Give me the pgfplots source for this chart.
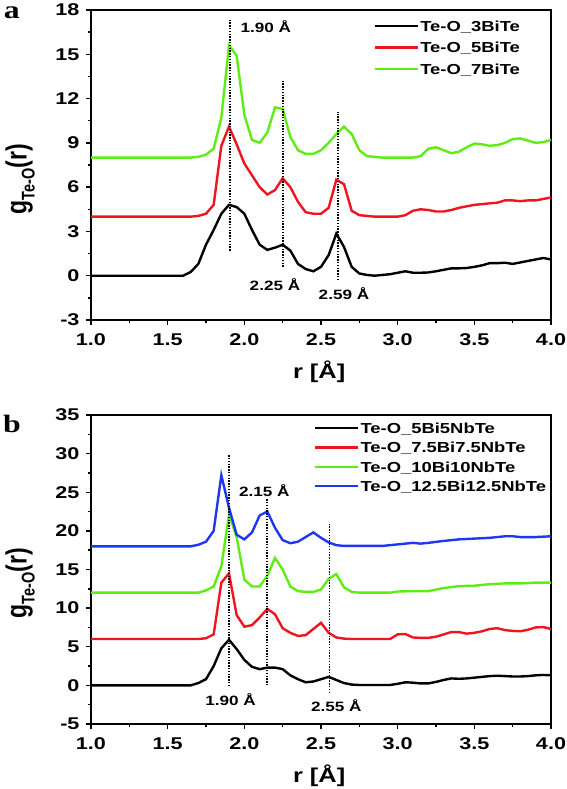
\documentclass[border=0pt]{standalone}
\usepackage{fontspec}
\setmainfont{Liberation Sans}[FakeStretch=1.27]
\newfontfamily\plainsans{Liberation Sans}
\newfontfamily\letterfont{Liberation Serif}[FakeStretch=1.27]
\usepackage{graphicx}
\usepackage{pgfplots}
\pgfplotsset{compat=1.18}
\definecolor{cred}{RGB}{240,20,30}
\definecolor{cgreen}{RGB}{95,235,20}
\definecolor{cblue}{RGB}{30,55,245}
\newcommand{\glabel}{\scalebox{1}[1.27]{\plainsans\bfseries\fontsize{23}{23}\selectfont g\raisebox{-0.28em}{\fontsize{14.5}{14.5}\selectfont Te-O}(r)}}
\pgfplotsset{
  gstyle/.style={
    width=460pt, height=310pt, scale only axis,
    xmin=1, xmax=4,
    xtick={1,1.5,2,2.5,3,3.5,4}, minor x tick num=1, minor y tick num=1,
    xtick pos=left, ytick pos=left, tick align=outside,
    major tick length=5pt, minor tick length=3pt,
    every tick/.style={black, line width=1.4pt},
    axis line style={line width=1.6pt},
    /pgf/number format/assume math mode=true,
    xticklabel style={font=\bfseries\fontsize{17}{17}\selectfont, yshift=-5pt, /pgf/number format/.cd, fixed, fixed zerofill, precision=1},
    yticklabel style={font=\bfseries\fontsize{17}{17}\selectfont, xshift=-3pt},
    xlabel={\bfseries r [Å]},
    xlabel style={font=\fontsize{20}{20}\selectfont, at={(axis description cs:0.496,-0.168)}, anchor=center},
    ylabel={\glabel},
    ylabel style={at={(axis description cs:-0.154,0.455)}, anchor=center},
    legend cell align=left,
    legend image code/.code={\draw[#1, line width=2.2pt] (0pt,2pt) -- (43pt,2pt);},
    every axis plot/.append style={line width=2.4pt},
    clip=false,
  },
  dots/.style={black, line width=1.5pt, dash pattern=on 1.4pt off 1.4pt, forget plot},
}
\begin{document}
\begin{tikzpicture}[x=1pt,y=1pt]
\useasboundingbox (0,0) rectangle (567,789);
% ---------------- panel a
\begin{axis}[gstyle, at={(91pt,469pt)}, anchor=south west,
  ymin=-3, ymax=18, ytick={-3,0,3,6,9,12,15,18},
  legend style={draw=none, fill=none, inner sep=0pt, at={(0.615,0.967)}, anchor=north west,
    font=\bfseries\fontsize{14.5}{14.5}\selectfont,
    nodes={inner sep=1pt, text height=10pt, text depth=3pt}, row sep=6.5pt},
  /tikz/every even column/.append style={column sep=4pt}]
\addplot[black] coordinates {(1.0,0)(1.6,0)(1.65,0.25)(1.7,0.8)(1.75,2.1)(1.8,3.1)(1.85,4.2)(1.9,4.8)(1.95,4.65)(2.0,4.2)(2.05,3.1)(2.1,2.1)(2.15,1.75)(2.2,1.9)(2.25,2.1)(2.3,1.7)(2.35,0.8)(2.4,0.45)(2.45,0.3)(2.5,0.6)(2.55,1.4)(2.6,2.85)(2.65,1.95)(2.7,0.6)(2.75,0.15)(2.8,0.05)(2.85,0.0)(2.9,0.05)(2.95,0.1)(3.0,0.2)(3.05,0.3)(3.1,0.2)(3.15,0.2)(3.2,0.22)(3.25,0.3)(3.3,0.4)(3.35,0.5)(3.4,0.5)(3.45,0.52)(3.5,0.6)(3.55,0.7)(3.6,0.85)(3.65,0.85)(3.7,0.88)(3.75,0.8)(3.8,0.9)(3.85,1.0)(3.9,1.1)(3.95,1.2)(4.0,1.1)};
\addlegendentry{Te-O\_3BiTe}
\addplot[cred] coordinates {(1.0,4)(1.65,4)(1.7,4.05)(1.75,4.2)(1.8,4.8)(1.85,8.8)(1.9,10.1)(1.95,8.9)(2.0,7.6)(2.05,6.8)(2.1,6.0)(2.15,5.5)(2.2,5.8)(2.25,6.6)(2.3,6.0)(2.35,5.0)(2.4,4.3)(2.45,4.2)(2.5,4.2)(2.55,4.6)(2.6,6.5)(2.65,6.2)(2.7,4.4)(2.75,4.1)(2.8,4.05)(2.85,4.0)(3.0,4.0)(3.05,4.1)(3.1,4.4)(3.15,4.5)(3.2,4.45)(3.25,4.35)(3.3,4.35)(3.35,4.45)(3.4,4.6)(3.45,4.7)(3.5,4.8)(3.55,4.85)(3.6,4.9)(3.65,4.95)(3.7,5.1)(3.75,5.1)(3.8,5.05)(3.85,5.1)(3.9,5.1)(3.95,5.2)(4.0,5.3)};
\addlegendentry{Te-O\_5BiTe}
\addplot[cgreen] coordinates {(1.0,8)(1.65,8)(1.7,8.05)(1.75,8.2)(1.8,8.6)(1.85,10.7)(1.9,15.6)(1.95,14.9)(2.0,10.9)(2.05,9.2)(2.1,9.0)(2.15,9.7)(2.2,11.4)(2.25,11.3)(2.3,9.4)(2.35,8.5)(2.4,8.25)(2.45,8.25)(2.5,8.5)(2.55,9.0)(2.6,9.6)(2.65,10.1)(2.7,9.6)(2.75,8.5)(2.8,8.1)(2.85,8.05)(2.9,8.0)(3.1,8.0)(3.15,8.1)(3.2,8.6)(3.25,8.7)(3.3,8.5)(3.35,8.3)(3.4,8.4)(3.45,8.7)(3.5,8.95)(3.55,8.9)(3.6,8.8)(3.65,8.85)(3.7,9.0)(3.75,9.25)(3.8,9.3)(3.85,9.15)(3.9,9.0)(3.95,9.05)(4.0,9.2)};
\addlegendentry{Te-O\_7BiTe}
\addplot[dots] coordinates {(1.905,1.7)(1.905,17.3)};
\addplot[dots] coordinates {(2.252,0.6)(2.252,13.2)};
\addplot[dots] coordinates {(2.61,-0.3)(2.61,11.1)};
\node[font=\bfseries\fontsize{13.5}{13.5}\selectfont] at (axis cs:2.14,16.9) {1.90 Å};
\node[font=\bfseries\fontsize{13.5}{13.5}\selectfont] at (axis cs:2.2,-0.6) {2.25 Å};
\node[font=\bfseries\fontsize{13.5}{13.5}\selectfont] at (axis cs:2.65,-1.2) {2.59 Å};
\node[font=\letterfont\bfseries\fontsize{25}{25}\selectfont] at (axis description cs:-0.172,0.99) {a};
\end{axis}
% ---------------- panel b
\begin{axis}[gstyle, at={(91pt,65pt)}, anchor=south west, height=309pt,
  ymin=-5, ymax=35, ytick={-5,0,5,10,15,20,25,30,35},
  legend style={draw=none, fill=none, inner sep=0pt, at={(0.485,0.976)}, anchor=north west,
    font=\bfseries\fontsize{14.5}{14.5}\selectfont,
    nodes={inner sep=1pt, text height=10pt, text depth=3pt}, row sep=4.3pt},
  /tikz/every even column/.append style={column sep=4pt}]
\addplot[black] coordinates {(1.0,0)(1.65,0)(1.7,0.3)(1.75,0.8)(1.8,2.5)(1.85,4.8)(1.9,5.9)(1.95,4.7)(2.0,3.3)(2.05,2.4)(2.1,2.1)(2.15,2.3)(2.2,2.3)(2.25,2.1)(2.3,1.3)(2.35,0.8)(2.4,0.4)(2.45,0.5)(2.5,0.8)(2.55,1.1)(2.6,0.7)(2.65,0.3)(2.7,0.1)(2.75,0.05)(2.95,0.05)(3.0,0.2)(3.05,0.4)(3.1,0.35)(3.15,0.25)(3.2,0.25)(3.25,0.45)(3.3,0.7)(3.35,0.9)(3.4,0.85)(3.45,0.9)(3.5,1.0)(3.55,1.1)(3.6,1.2)(3.65,1.25)(3.7,1.2)(3.75,1.15)(3.8,1.15)(3.85,1.2)(3.9,1.3)(3.95,1.35)(4.0,1.3)};
\addlegendentry{Te-O\_5Bi5NbTe}
\addplot[cred] coordinates {(1.0,6)(1.7,6)(1.75,6.1)(1.8,6.6)(1.85,13.3)(1.9,14.5)(1.95,9.1)(2.0,7.6)(2.05,7.8)(2.1,8.8)(2.15,9.9)(2.2,9.2)(2.25,7.4)(2.3,6.8)(2.35,6.4)(2.4,6.5)(2.45,7.3)(2.5,8.1)(2.55,6.8)(2.6,6.2)(2.65,6.05)(2.7,6.0)(2.95,6.0)(3.0,6.6)(3.05,6.65)(3.1,6.2)(3.15,6.15)(3.2,6.15)(3.25,6.3)(3.3,6.6)(3.35,6.9)(3.4,6.9)(3.45,6.7)(3.5,6.8)(3.55,7.0)(3.6,7.3)(3.65,7.4)(3.7,7.15)(3.75,7.05)(3.8,7.0)(3.85,7.2)(3.9,7.5)(3.95,7.55)(4.0,7.3)};
\addlegendentry{Te-O\_7.5Bi7.5NbTe}
\addplot[cgreen] coordinates {(1.0,12)(1.7,12)(1.75,12.3)(1.8,12.8)(1.85,15.4)(1.9,22.1)(1.95,19.2)(2.0,13.7)(2.05,12.8)(2.1,12.8)(2.15,14.2)(2.2,16.5)(2.25,15.0)(2.3,12.8)(2.35,12.2)(2.4,12.1)(2.45,12.1)(2.5,12.4)(2.55,13.8)(2.6,14.4)(2.65,12.7)(2.7,12.1)(2.75,12.0)(2.95,12.0)(3.0,12.15)(3.1,12.2)(3.2,12.2)(3.3,12.6)(3.4,12.85)(3.5,12.9)(3.6,13.1)(3.7,13.2)(3.8,13.2)(3.9,13.3)(4.0,13.3)};
\addlegendentry{Te-O\_10Bi10NbTe}
\addplot[cblue] coordinates {(1.0,18)(1.65,18)(1.7,18.2)(1.75,18.6)(1.8,20.0)(1.85,27.2)(1.9,23.0)(1.95,19.5)(2.0,18.9)(2.05,19.8)(2.1,22.0)(2.15,22.5)(2.2,20.4)(2.25,18.8)(2.3,18.4)(2.35,18.6)(2.4,19.2)(2.45,19.8)(2.5,19.1)(2.55,18.5)(2.6,18.15)(2.65,18.05)(2.9,18.05)(3.0,18.25)(3.05,18.35)(3.1,18.45)(3.15,18.35)(3.2,18.45)(3.3,18.7)(3.4,18.9)(3.5,19.0)(3.6,19.1)(3.7,19.3)(3.75,19.3)(3.8,19.2)(3.9,19.2)(4.0,19.3)};
\addlegendentry{Te-O\_12.5Bi12.5NbTe}
\addplot[dots] coordinates {(1.9,-0.1)(1.9,29.9)};
\addplot[dots] coordinates {(2.148,0)(2.148,24.1)};
\addplot[dots] coordinates {(2.555,-1.0)(2.555,21.0)};
\node[font=\bfseries\fontsize{13.5}{13.5}\selectfont] at (axis cs:1.91,-1.85) {1.90 Å};
\node[font=\bfseries\fontsize{13.5}{13.5}\selectfont] at (axis cs:2.13,25.2) {2.15 Å};
\node[font=\bfseries\fontsize{13.5}{13.5}\selectfont] at (axis cs:2.6,-2.6) {2.55 Å};
\node[font=\letterfont\bfseries\fontsize{25}{25}\selectfont] at (axis description cs:-0.172,0.97) {b};
\end{axis}
\end{tikzpicture}
\end{document}
